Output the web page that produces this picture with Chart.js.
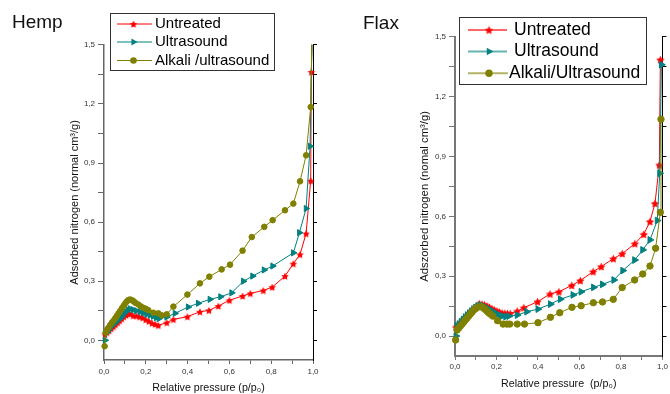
<!DOCTYPE html>
<html>
<head>
<meta charset="utf-8">
<script src="https://cdn.jsdelivr.net/npm/chart.js@4/dist/chart.umd.min.js"></script>
<style>
  html, body { margin: 0; padding: 0; background: #fff; }
  #wrap { position: relative; width: 670px; height: 394px; overflow: hidden; }
  canvas { position: absolute; top: 0; }
  #hemp { left: 0; }
  #flax { left: 335px; }
</style>
</head>
<body>
<div id="wrap">
  <canvas id="hemp" width="335" height="394"></canvas>
  <canvas id="flax" width="335" height="394"></canvas>
</div>
<script>
// N2 adsorption isotherms, hemp (left) and flax (right).
const X_TICKS = [0, 0.1, 0.2, 0.3, 0.4, 0.5, 0.6, 0.7, 0.8, 0.9, 1.0];
const Y_TICKS = [0, 0.15, 0.3, 0.45, 0.6, 0.75, 0.9, 1.05, 1.2, 1.35, 1.5];

const HEMP_LABELS = ["Untreated", "Ultrasound", "Alkali /ultrasound"];
const FLAX_LABELS = ["Untreated", "Ultrasound", "Alkali/Ultrasound"];

// --- Hemp ---
const HEMP_UNT_P = [0.005, 0.015, 0.025, 0.035, 0.045, 0.055, 0.065, 0.075, 0.085, 0.095, 0.105, 0.115, 0.125, 0.14, 0.155, 0.17, 0.185, 0.2, 0.215, 0.23, 0.245, 0.26, 0.3, 0.332, 0.399, 0.459, 0.502, 0.547, 0.6, 0.663, 0.7, 0.762, 0.805, 0.866, 0.906, 0.938, 0.967, 0.989, 0.992, 0.998];
const HEMP_UNT_V = [0.03, 0.04, 0.05, 0.06, 0.07, 0.08, 0.09, 0.1, 0.11, 0.12, 0.128, 0.135, 0.135, 0.125, 0.125, 0.12, 0.115, 0.105, 0.097, 0.087, 0.082, 0.076, 0.09, 0.106, 0.12, 0.145, 0.152, 0.174, 0.203, 0.225, 0.238, 0.253, 0.27, 0.326, 0.389, 0.436, 0.542, 0.81, 1.362, 1.7];

const HEMP_US_P = [0.005, 0.015, 0.025, 0.035, 0.045, 0.055, 0.065, 0.075, 0.085, 0.095, 0.105, 0.115, 0.125, 0.14, 0.155, 0.172, 0.188, 0.204, 0.22, 0.236, 0.25, 0.263, 0.3, 0.34, 0.403, 0.451, 0.507, 0.558, 0.611, 0.667, 0.711, 0.766, 0.807, 0.906, 0.935, 0.967, 0.986, 0.998];
const HEMP_US_V = [0.0, 0.04, 0.055, 0.07, 0.08, 0.09, 0.1, 0.11, 0.12, 0.135, 0.145, 0.155, 0.16, 0.155, 0.15, 0.145, 0.138, 0.132, 0.127, 0.122, 0.115, 0.11, 0.118, 0.137, 0.169, 0.188, 0.208, 0.221, 0.241, 0.3, 0.326, 0.357, 0.377, 0.444, 0.546, 0.669, 0.985, 1.7];

const HEMP_ALK_P = [0.003, 0.008, 0.015, 0.022, 0.03, 0.038, 0.046, 0.054, 0.062, 0.07, 0.078, 0.086, 0.094, 0.102, 0.11, 0.118, 0.126, 0.134, 0.142, 0.15, 0.164, 0.176, 0.188, 0.2, 0.212, 0.236, 0.26, 0.276, 0.3, 0.332, 0.399, 0.459, 0.504, 0.563, 0.603, 0.663, 0.707, 0.767, 0.807, 0.866, 0.906, 0.938, 0.967, 0.989, 0.998];
const HEMP_ALK_V = [-0.03, 0.04, 0.055, 0.065, 0.078, 0.09, 0.1, 0.112, 0.125, 0.138, 0.15, 0.163, 0.175, 0.188, 0.198, 0.205, 0.207, 0.203, 0.198, 0.19, 0.182, 0.172, 0.165, 0.16, 0.153, 0.14, 0.137, 0.127, 0.132, 0.171, 0.232, 0.289, 0.323, 0.36, 0.384, 0.455, 0.524, 0.576, 0.61, 0.66, 0.694, 0.807, 0.939, 1.184, 1.7];

// --- Flax ---
const FLAX_UNT_P = [0.005, 0.015, 0.025, 0.035, 0.045, 0.055, 0.065, 0.075, 0.085, 0.095, 0.105, 0.118, 0.13, 0.142, 0.154, 0.166, 0.178, 0.19, 0.202, 0.214, 0.227, 0.24, 0.253, 0.266, 0.3, 0.332, 0.398, 0.458, 0.501, 0.563, 0.604, 0.666, 0.705, 0.763, 0.806, 0.867, 0.91, 0.94, 0.964, 0.985, 0.99];
const FLAX_UNT_V = [0.045, 0.055, 0.065, 0.077, 0.088, 0.1, 0.11, 0.12, 0.13, 0.14, 0.15, 0.161, 0.16, 0.156, 0.15, 0.144, 0.137, 0.13, 0.125, 0.12, 0.115, 0.114, 0.113, 0.113, 0.125, 0.142, 0.172, 0.211, 0.222, 0.254, 0.278, 0.323, 0.348, 0.388, 0.413, 0.463, 0.51, 0.574, 0.665, 0.858, 1.385];

const FLAX_US_P = [0.005, 0.01, 0.02, 0.03, 0.04, 0.05, 0.06, 0.07, 0.08, 0.09, 0.1, 0.11, 0.12, 0.132, 0.144, 0.156, 0.168, 0.18, 0.192, 0.204, 0.216, 0.228, 0.245, 0.26, 0.3, 0.346, 0.4, 0.46, 0.508, 0.569, 0.608, 0.668, 0.711, 0.766, 0.809, 0.866, 0.905, 0.94, 0.975, 0.987, 0.995];
const FLAX_US_V = [0.0, 0.05, 0.06, 0.072, 0.083, 0.095, 0.105, 0.115, 0.125, 0.135, 0.143, 0.15, 0.155, 0.152, 0.147, 0.14, 0.132, 0.125, 0.117, 0.11, 0.105, 0.1, 0.097, 0.1, 0.105, 0.122, 0.135, 0.16, 0.185, 0.206, 0.222, 0.244, 0.259, 0.281, 0.328, 0.381, 0.432, 0.482, 0.579, 0.816, 1.36];

const FLAX_ALK_P = [0.003, 0.01, 0.018, 0.026, 0.034, 0.042, 0.05, 0.058, 0.066, 0.074, 0.082, 0.09, 0.098, 0.106, 0.114, 0.122, 0.13, 0.138, 0.146, 0.154, 0.162, 0.17, 0.182, 0.205, 0.232, 0.25, 0.264, 0.3, 0.335, 0.4, 0.46, 0.505, 0.564, 0.608, 0.667, 0.711, 0.763, 0.806, 0.866, 0.905, 0.94, 0.967, 0.99, 0.993];
const FLAX_ALK_V = [-0.02, 0.03, 0.04, 0.05, 0.06, 0.07, 0.08, 0.09, 0.1, 0.11, 0.12, 0.13, 0.137, 0.143, 0.147, 0.148, 0.146, 0.14, 0.133, 0.125, 0.117, 0.11, 0.1, 0.077, 0.06, 0.06, 0.06, 0.06, 0.06, 0.067, 0.094, 0.117, 0.144, 0.152, 0.167, 0.171, 0.184, 0.243, 0.281, 0.311, 0.351, 0.44, 0.62, 1.087];

const RED = "#ff0000", TEAL = "#008080", OLIVE = "#808000";
Chart.defaults.font.family = "'Liberation Sans', Arial, sans-serif";

const comma = (v) => v.toFixed(1).replace(".", ",");
const yLabel = (v) => (Math.abs(v / 0.3 - Math.round(v / 0.3)) < 1e-6 ? comma(v) : "");
const xLabel = (v) => (Math.round(v * 10) % 2 ? "" : comma(v));

// filled 5-point star, Origin style (chart.js 'star' is an asterisk)
function starImage(color, r) {
  const c = document.createElement("canvas");
  const s = Math.ceil(r * 2) + 2;
  c.width = c.height = s;
  const g = c.getContext("2d");
  g.fillStyle = color;
  g.beginPath();
  for (let k = 0; k < 10; k++) {
    const rr = k % 2 ? r * 0.5 : r;
    const a = -Math.PI / 2 + (k * Math.PI) / 5;
    g.lineTo(s / 2 + rr * Math.cos(a), s / 2 + 0.5 + rr * Math.sin(a));
  }
  g.closePath();
  g.fill();
  return c;
}

const pts = (p, v) => p.map((x, i) => ({ x, y: v[i] }));

function datasets(labels, sets, size) {
  const common = { borderWidth: 1, tension: 0, clip: { top: 0, left: false, right: false, bottom: false } };
  return [
    { ...common, label: labels[0], data: pts(sets[0][0], sets[0][1]), borderColor: RED, backgroundColor: RED,
      pointStyle: starImage(RED, size.star), pointRadius: size.star, order: 2 },
    { ...common, label: labels[1], data: pts(sets[1][0], sets[1][1]), borderColor: TEAL, backgroundColor: TEAL,
      pointStyle: "triangle", pointRotation: 90, pointRadius: size.tri, pointBorderWidth: 1, order: 1 },
    { ...common, label: labels[2], data: pts(sets[2][0], sets[2][1]), borderColor: OLIVE, backgroundColor: OLIVE,
      pointStyle: "circle", pointRadius: size.dot, pointBorderWidth: 1, order: 0 },
  ];
}

function drawMarker(ctx, ds, x, y) {
  const st = ds.pointStyle;
  if (st instanceof HTMLCanvasElement) {
    ctx.drawImage(st, x - st.width / 2, y - st.height / 2);
    return;
  }
  ctx.fillStyle = ds.backgroundColor;
  ctx.beginPath();
  const r = ds.pointRadius + 0.5;
  if (st === "triangle") {
    ctx.moveTo(x + r, y);
    ctx.lineTo(x - r / 2, y - r * 0.866);
    ctx.lineTo(x - r / 2, y + r * 0.866);
  } else {
    ctx.arc(x, y, r, 0, Math.PI * 2);
  }
  ctx.closePath();
  ctx.fill();
}

// boxed legend with line + marker, as Origin draws it
const isoLegend = {
  id: "isoLegend",
  afterDraw(chart, args, o) {
    const ctx = chart.ctx;
    ctx.save();
    ctx.fillStyle = "#fff";
    ctx.fillRect(o.x, o.y, o.w, o.h);
    ctx.strokeStyle = "#333";
    ctx.lineWidth = 1;
    ctx.strokeRect(o.x + 0.5, o.y + 0.5, o.w, o.h);
    ctx.font = o.size + "px 'Liberation Sans', Arial, sans-serif";
    ctx.textBaseline = "middle";
    chart.data.datasets.forEach((ds, i) => {
      const y = o.rows[i];
      ctx.globalAlpha = o.lineAlpha;
      ctx.strokeStyle = ds.borderColor;
      ctx.lineWidth = o.lineWidth;
      ctx.beginPath();
      ctx.moveTo(o.x1, y);
      ctx.lineTo(o.x2[i], y);
      ctx.stroke();
      ctx.globalAlpha = 1;
      drawMarker(ctx, ds, o.mx, y);
      ctx.fillStyle = "#000";
      ctx.fillText(ds.label, o.textX[i], y);
    });
    ctx.restore();
  },
};

function isotherm(id, o) {
  const setTicks = (list) => (s) => { s.ticks = list.map((value) => ({ value })); };
  return new Chart(document.getElementById(id), {
    type: "line",
    data: { datasets: o.datasets },
    options: {
      responsive: false,
      animation: false,
      layout: { padding: o.padding },
      plugins: {
        legend: { display: false },
        tooltip: { enabled: false },
        title: { display: true, text: o.title, align: "start", color: "#111", font: { size: 19, weight: "normal" }, padding: o.titlePad },
        isoLegend: o.legend,
      },
      scales: {
        x: {
          type: "linear", min: 0, max: 1,
          afterBuildTicks: setTicks(X_TICKS),
          afterFit: (s) => { s.height = o.xHeight; },
          border: { color: o.axisColor, width: o.axisWidth },
          grid: { drawOnChartArea: false, tickLength: 4, tickColor: o.axisColor },
          ticks: { autoSkip: false, maxRotation: 0, padding: o.xTickPad, color: "#333", font: { size: 8 }, callback: xLabel },
          title: { display: true, text: o.xTitle, color: "#111", font: { size: 10.7 }, padding: { top: 0, bottom: o.xTitleBottom } },
        },
        y: {
          type: "linear", min: -0.1, max: 1.5,
          afterBuildTicks: setTicks(Y_TICKS),
          afterFit: (s) => { s.width = o.yWidth; },
          border: { color: o.axisColor, width: o.axisWidth },
          grid: { drawOnChartArea: false, tickLength: 6, tickColor: o.axisColor },
          ticks: { padding: 3, color: "#333", font: { size: 8 }, callback: yLabel },
          title: { display: true, text: o.yTitle, color: "#111", font: { size: o.yTitleSize }, padding: { top: o.yTitlePad, bottom: 0 } },
        },
        y2: {
          type: "linear", position: "right", min: -0.1, max: 1.5,
          afterBuildTicks: setTicks(Y_TICKS),
          afterFit: (s) => { s.width = o.y2Width; },
          border: { color: "#000", width: 1 },
          grid: { drawOnChartArea: false, tickLength: 4, tickColor: "#000" },
          ticks: { display: false },
        },
      },
    },
    plugins: [isoLegend],
  });
}

isotherm("hemp", {
  title: "Hemp",
  titlePad: { top: 11, bottom: 11 },
  padding: { left: 12, right: 10, top: 0, bottom: 0 },
  yWidth: 92, y2Width: 12, xHeight: 34, xTickPad: 3, xTitleBottom: 0, yTitlePad: 56, yTitleSize: 11,
  axisColor: "#666", axisWidth: 1.5,
  xTitle: "Relative pressure (p/p\u2080)",
  yTitle: "Adsorbed nitrogen (normal cm\u00b3/g)",
  datasets: datasets(HEMP_LABELS, [[HEMP_UNT_P, HEMP_UNT_V], [HEMP_US_P, HEMP_US_V], [HEMP_ALK_P, HEMP_ALK_V]], { star: 4, tri: 3.6, dot: 2.8 }),
  legend: { x: 110, y: 13, w: 164, h: 57, size: 15, rows: [24, 42, 60.5], x1: 117, x2: [152, 152, 152], mx: 133.5, textX: [155, 155, 155], lineWidth: 1, lineAlpha: 1 },
});

isotherm("flax", {
  title: "Flax",
  titlePad: { top: 12, bottom: 2 },
  padding: { left: 28, right: 0, top: 0, bottom: 0 },
  yWidth: 92, y2Width: 4, xHeight: 38, xTickPad: 2, xTitleBottom: 4, yTitlePad: 55, yTitleSize: 11.3,
  axisColor: "#777", axisWidth: 2,
  xTitle: "Relative pressure  (p/p\u2080)",
  yTitle: "Adszorbed nitrogen (nomal cm\u00b3/g)",
  datasets: datasets(FLAX_LABELS, [[FLAX_UNT_P, FLAX_UNT_V], [FLAX_US_P, FLAX_US_V], [FLAX_ALK_P, FLAX_ALK_V]], { star: 4.4, tri: 3.9, dot: 3.2 }),
  legend: { x: 124, y: 17, w: 187, h: 67, size: 17.5, rows: [30, 51.5, 73.3], x1: 133, x2: [172, 172, 173], mx: 154, textX: [179, 179, 174], lineWidth: 2, lineAlpha: 0.6 },
});
</script>
</body>
</html>
